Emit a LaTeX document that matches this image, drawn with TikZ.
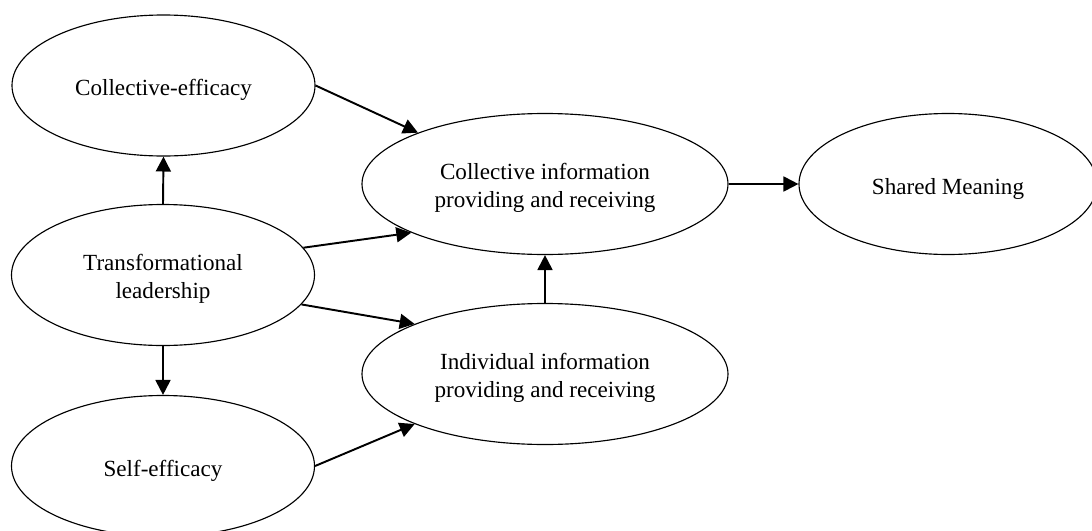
\documentclass[tikz,border=0pt]{standalone}
\usepackage{fontspec}
\setmainfont{Liberation Serif}
\usepackage{tikz}
\usetikzlibrary{arrows.meta,shapes.geometric}
\tikzset{
  construct/.style={draw, ellipse, line width=0.65pt, minimum width=6.06cm, minimum height=2.82cm,
                    inner sep=0pt, align=center, text height=14.6pt,
                    font=\fontsize{13.15}{15.9}\selectfont},
  twoline/.style={text height=29.2pt},
  wideconstruct/.style={construct, twoline, minimum width=7.32cm},
  flow/.style={-{Triangle[length=8.5pt, width=8.5pt]}, line width=1.1pt},
}

\begin{document}
\begin{tikzpicture}
  \useasboundingbox (0,0) rectangle (21.84,-10.62);
  \node[construct] (colleff) at (3.27,-1.71) {Collective-efficacy};
  \node[construct, twoline] (trans) at (3.26,-5.50) {Transformational\\leadership};
  \node[construct] (selfeff) at (3.26,-9.32) {Self-efficacy};
  \node[wideconstruct] (collinfo) at (10.90,-3.68) {Collective information\\providing and receiving};
  \node[wideconstruct] (indinfo) at (10.90,-7.48) {Individual information\\providing and receiving};
  \node[construct, minimum width=5.96cm] (shared) at (18.96,-3.68) {Shared Meaning};
  \draw[flow] (trans.north) -- (colleff.south);
  \draw[flow] (trans.south) -- (selfeff.north);
  \draw[flow] (colleff.east) -- (collinfo.158);
  \draw[flow] (trans.11) -- (collinfo.200);
  \draw[flow] (trans.348) -- (indinfo.159);
  \draw[flow] (selfeff.east) -- (indinfo.201);
  \draw[flow] (indinfo.north) -- (collinfo.south);
  \draw[flow] (collinfo.east) -- (shared.west);
\end{tikzpicture}
\end{document}
